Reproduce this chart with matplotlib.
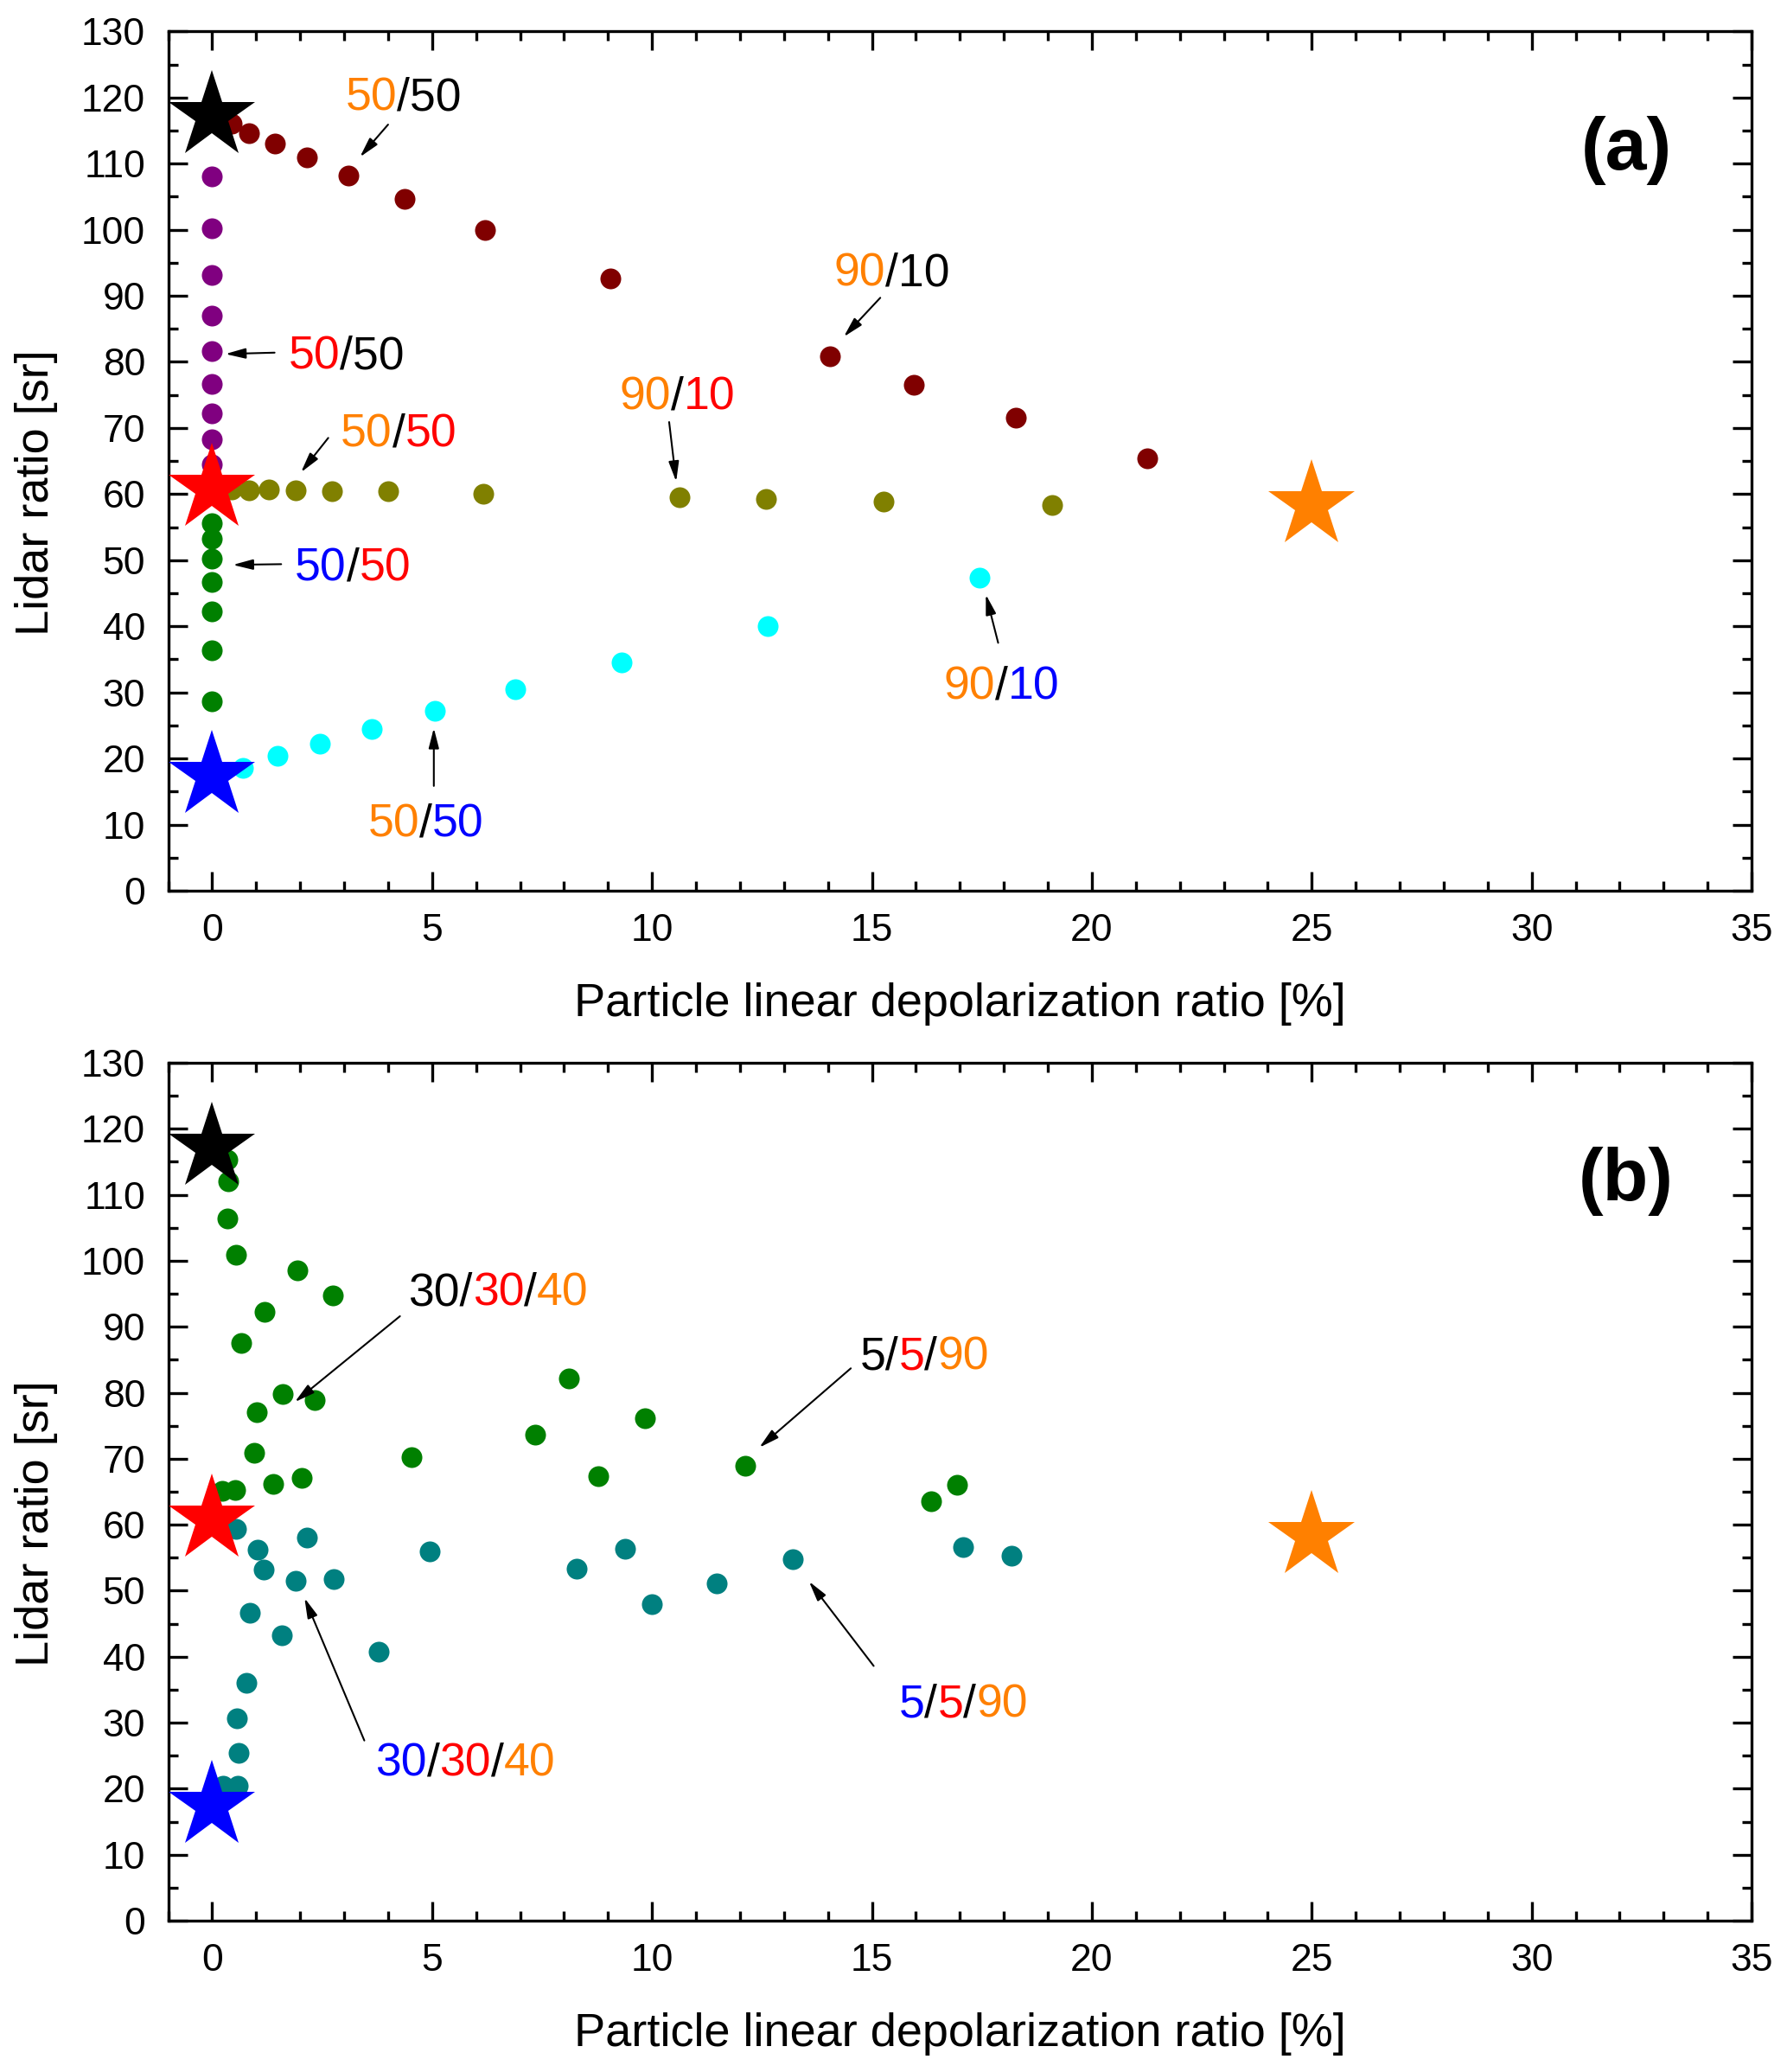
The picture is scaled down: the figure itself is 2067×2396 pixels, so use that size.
import matplotlib
matplotlib.use("Agg")
import matplotlib.pyplot as plt
from matplotlib.ticker import MultipleLocator

plt.rcParams['font.family'] = ['Liberation Sans', 'DejaVu Sans']

# ---------------- data ----------------
ORANGE = '#FF8000'

# pure-type reference values (stars)
star_x = [0, 0, 0, 25]
star_y = [117.2, 60.8, 17.4, 58.3]
star_colors = ['black', 'red', 'blue', ORANGE]

# panel (a) two-component mixtures
maroon_x = [0.44, 0.84, 1.43, 2.15, 3.10, 4.38, 6.21, 9.05, 14.05, 15.96, 18.28, 21.26]
maroon_y = [116.1, 114.6, 113.0, 110.9, 108.2, 104.7, 99.9, 92.6, 80.8, 76.5, 71.5, 65.4]

purple_x = [0, 0, 0, 0, 0, 0, 0, 0, 0]
purple_y = [108.1, 100.2, 93.2, 87.0, 81.6, 76.6, 72.2, 68.3, 64.5]

olive_x = [0.44, 0.84, 1.29, 1.89, 2.73, 4.00, 6.17, 10.62, 12.60, 15.27, 19.10]
olive_y = [60.7, 60.6, 60.7, 60.6, 60.5, 60.4, 60.0, 59.5, 59.3, 58.9, 58.4]

green_a_x = [0, 0, 0, 0, 0, 0, 0]
green_a_y = [55.6, 53.2, 50.3, 46.7, 42.3, 36.4, 28.6]

cyan_x = [0.70, 1.49, 2.45, 3.62, 5.06, 6.90, 9.31, 12.63, 17.44]
cyan_y = [18.6, 20.4, 22.2, 24.5, 27.2, 30.5, 34.6, 40.0, 47.4]

# panel (b) three-component mixtures
green_b_x = [0.35, 0.37, 0.35, 0.54, 1.94, 2.74, 1.19, 0.67, 1.61, 2.34, 1.02, 0.95,
             4.54, 2.04, 1.38, 0.52, 0.22, 8.11, 9.83, 7.35, 8.78, 12.11, 16.34, 16.94]
green_b_y = [115.3, 112.0, 106.4, 100.9, 98.6, 94.7, 92.2, 87.6, 79.8, 78.9, 77.0, 70.9,
             70.2, 67.1, 66.2, 65.2, 65.1, 82.2, 76.2, 73.6, 67.3, 68.9, 63.6, 66.1]

teal_x = [0.55, 1.04, 2.15, 1.17, 1.90, 2.76, 4.95, 0.86, 1.58, 3.79, 0.78, 0.56,
          0.61, 0.58, 0.25, 8.28, 9.39, 10.00, 11.48, 13.21, 17.08, 18.17]
teal_y = [59.4, 56.2, 58.1, 53.2, 51.5, 51.8, 56.0, 46.7, 43.2, 40.7, 36.0, 30.7,
          25.4, 20.4, 20.4, 53.3, 56.3, 47.9, 51.1, 54.8, 56.6, 55.3]

# annotations: (text left x, text centre y, [(piece, colour)...], arrow tail, arrow head)
notes_a = [
    (3.03, 120.6, [("50", ORANGE), ("/50", "black")], (4.00, 115.9), (3.36, 111.0)),
    (14.13, 94.0, [("90", ORANGE), ("/10", "black")], (15.19, 89.7), (14.36, 83.8)),
    (1.73, 81.5, [("50", "red"), ("/50", "black")], (1.42, 81.4), (0.30, 81.2)),
    (9.26, 75.3, [("90", ORANGE), ("/", "black"), ("10", "red")], (10.39, 70.9), (10.55, 61.9)),
    (2.92, 69.7, [("50", ORANGE), ("/", "black"), ("50", "red")], (2.64, 68.5), (2.02, 63.3)),
    (1.88, 49.4, [("50", "blue"), ("/", "black"), ("50", "red")], (1.57, 49.4), (0.47, 49.3)),
    (3.54, 10.6, [("50", ORANGE), ("/", "black"), ("50", "blue")], (5.04, 15.85), (5.04, 24.6)),
    (16.64, 31.4, [("90", ORANGE), ("/", "black"), ("10", "blue")], (17.87, 37.5), (17.59, 44.8)),
]
notes_b = [
    (4.46, 95.75, [("30/", "black"), ("30", "red"), ("/", "black"), ("40", ORANGE)],
     (4.27, 91.6), (1.88, 78.6)),
    (14.73, 86.05, [("5/", "black"), ("5", "red"), ("/", "black"), ("90", ORANGE)],
     (14.52, 83.7), (12.44, 71.7)),
    (3.71, 24.4, [("30", "blue"), ("/", "black"), ("30", "red"), ("/", "black"), ("40", ORANGE)],
     (3.46, 27.3), (2.10, 48.9)),
    (15.61, 33.3, [("5", "blue"), ("/", "black"), ("5", "red"), ("/", "black"), ("90", ORANGE)],
     (15.04, 38.6), (13.57, 51.4)),
]

x_ticks = [0, 5, 10, 15, 20, 25, 30, 35]
y_ticks = list(range(0, 131, 10))
xlabel = "Particle linear depolarization ratio [%]"
ylabel = "Lidar ratio [sr]"

# ---------------- styling ----------------
DOT_MS = 17.3
STAR_MS = 76
ANN_FS = 38.5
TICK_FS = 32
LABEL_FS = 39

fig = plt.figure(figsize=(20.67, 23.96), dpi=100)
ax_a = fig.add_axes([0.0941, 0.57012, 0.8861, 0.41473])
ax_b = fig.add_axes([0.0941, 0.07304, 0.8861, 0.41402])


def dots(ax, x, y, color):
    ax.plot(x, y, linestyle='none', marker='o', ms=DOT_MS, color=color,
            markeredgewidth=0, zorder=3)


def rainbow(ax, x, y, parts):
    t = ax.annotate(parts[0][0], xy=(x, y), xycoords='data', xytext=(0, -3.6),
                    textcoords='offset points', color=parts[0][1], fontsize=ANN_FS,
                    ha='left', va='center', zorder=6)
    for s, c in parts[1:]:
        t = ax.annotate(s, xy=(1, 0), xycoords=t, xytext=(0, 0),
                        textcoords='offset points', color=c, fontsize=ANN_FS,
                        ha='left', va='bottom', zorder=6)


def arrow(ax, tail, head):
    ax.annotate('', xy=head, xytext=tail, xycoords='data', textcoords='data',
                arrowprops=dict(arrowstyle='-|>,head_length=0.7,head_width=0.18',
                                color='black', lw=1.5, shrinkA=0, shrinkB=0,
                                mutation_scale=20),
                zorder=5)


def style(ax, tag):
    ax.set_xlim(-1, 35)
    ax.set_ylim(0, 130)
    ax.set_xticks(x_ticks)
    ax.set_yticks(y_ticks)
    ax.xaxis.set_minor_locator(MultipleLocator(1))
    ax.yaxis.set_minor_locator(MultipleLocator(5))
    ax.tick_params(which='both', direction='in', top=True, right=True,
                   width=2.4, labelsize=TICK_FS, pad=19)
    ax.tick_params(which='major', length=16)
    ax.tick_params(which='minor', length=8)
    for sp in ax.spines.values():
        sp.set_linewidth(2.4)
    ax.set_xlabel(xlabel, fontsize=LABEL_FS, va='center')
    ax.xaxis.set_label_coords(0.5, -0.1318)
    ax.set_ylabel(ylabel, fontsize=LABEL_FS, va='center')
    ax.yaxis.set_label_coords(-0.0834, 0.463)
    ax.text(32.15, 112.0, tag, fontsize=62, fontweight='bold', ha='center',
            va='center', zorder=6)


def stars(ax):
    for x, y, c in zip(star_x, star_y, star_colors):
        ax.plot([x], [y], linestyle='none', marker='*', ms=STAR_MS, color=c,
                markeredgewidth=0, zorder=4)


# panel (a)
dots(ax_a, maroon_x, maroon_y, '#800000')
dots(ax_a, purple_x, purple_y, '#800080')
dots(ax_a, olive_x, olive_y, '#808000')
dots(ax_a, green_a_x, green_a_y, '#008000')
dots(ax_a, cyan_x, cyan_y, '#00FFFF')
stars(ax_a)
for tx, ty, parts, tail, head in notes_a:
    rainbow(ax_a, tx, ty, parts)
    arrow(ax_a, tail, head)
style(ax_a, '(a)')

# panel (b)
dots(ax_b, green_b_x, green_b_y, '#008000')
dots(ax_b, teal_x, teal_y, '#008080')
stars(ax_b)
for tx, ty, parts, tail, head in notes_b:
    rainbow(ax_b, tx, ty, parts)
    arrow(ax_b, tail, head)
style(ax_b, '(b)')

fig.savefig('out.png', dpi=100)
